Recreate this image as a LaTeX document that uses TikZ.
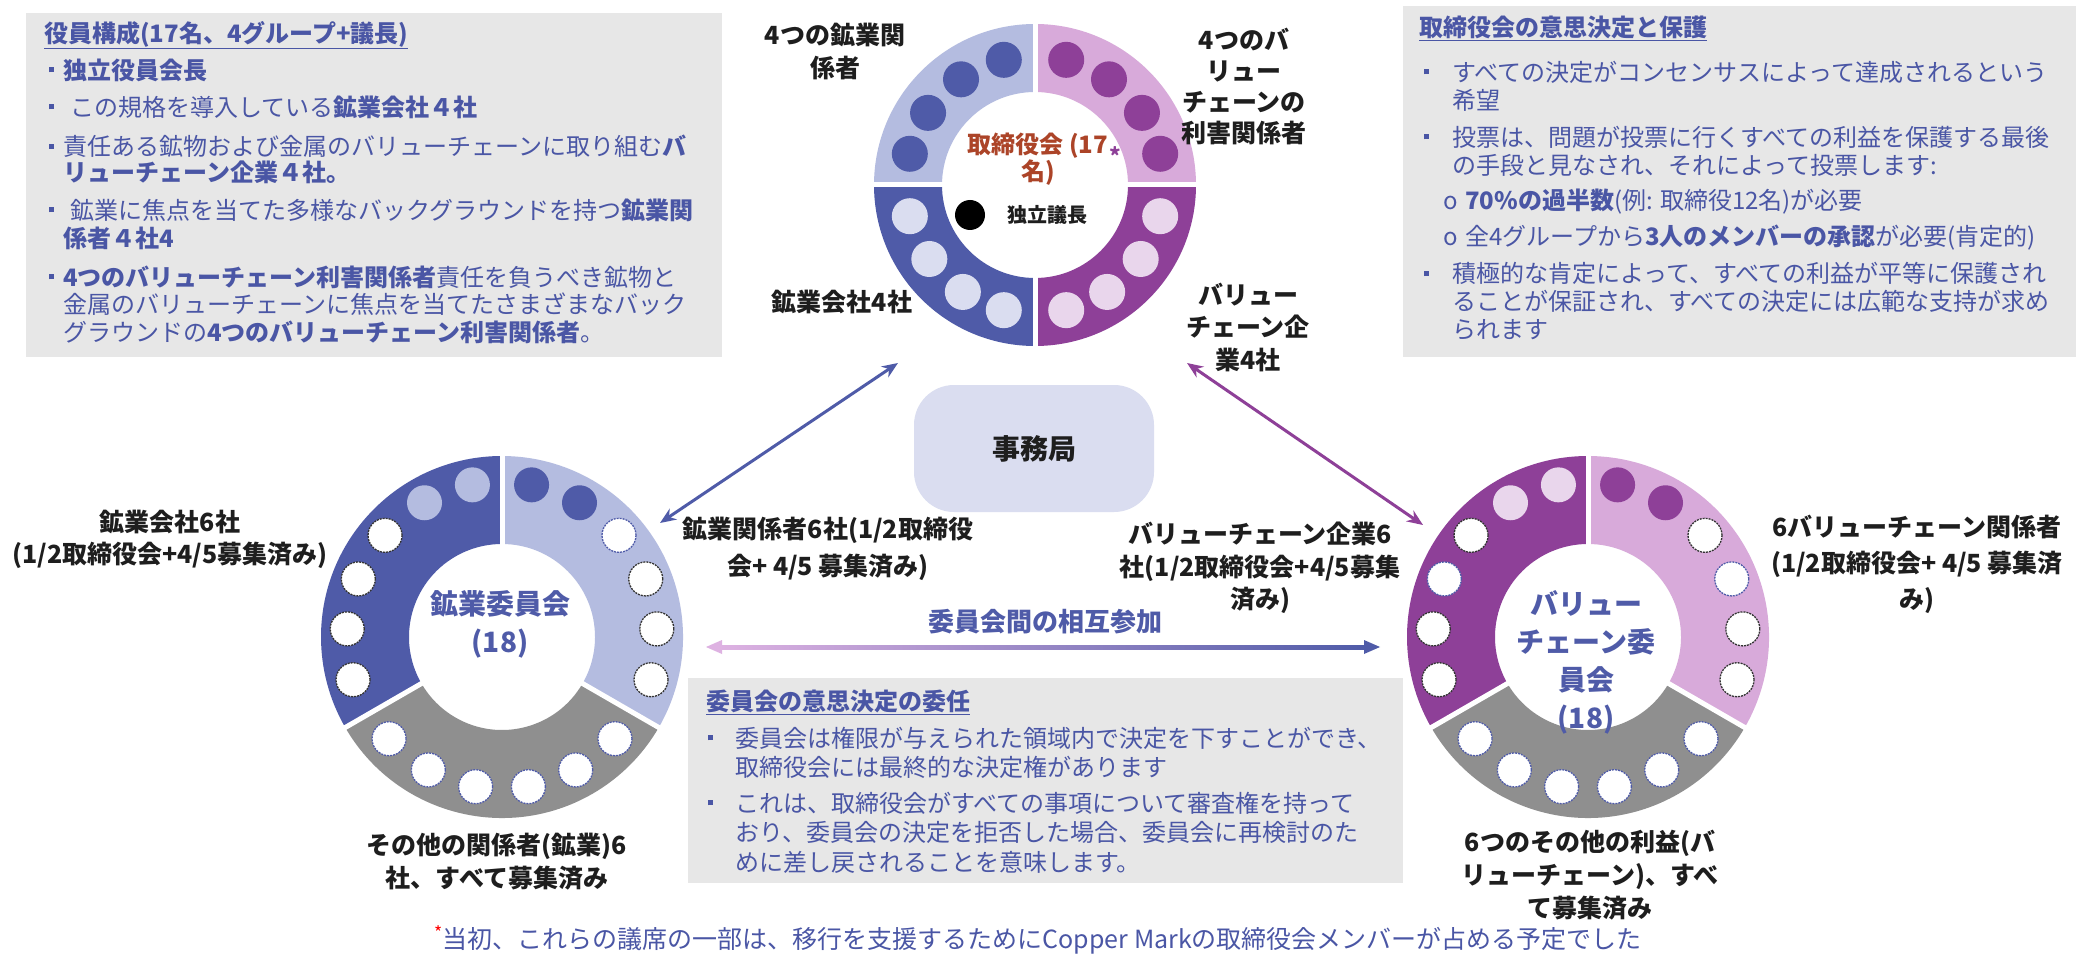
\documentclass[tikz,border=0pt]{standalone}
\usepackage{fontspec}
\setmainfont{Noto Sans CJK JP}
\usetikzlibrary{arrows.meta,calc}
\definecolor{dblue}{RGB}{79,91,168}
\definecolor{lblue}{RGB}{180,188,224}
\definecolor{vlblue}{RGB}{218,221,240}
\definecolor{dpurp}{RGB}{142,64,152}
\definecolor{lpurp}{RGB}{216,170,218}
\definecolor{vlpink}{RGB}{233,214,236}
\definecolor{ringgray}{RGB}{143,143,143}
\definecolor{boxgray}{RGB}{231,231,231}
\definecolor{txtblue}{RGB}{74,86,165}
\definecolor{lblk}{RGB}{30,30,30}
\definecolor{rust}{RGB}{172,68,40}
\definecolor{pinkarrow}{RGB}{222,178,226}
\newcommand\sqb{\raisebox{0.28em}{\rule{5pt}{5pt}}}
\newcommand\annsec[5]{\fill[#1] (#2:#4) arc[start angle=#2,end angle=#3,radius=#4] -- (#3:#5) arc[start angle=#3,end angle=#2,radius=#5] -- cycle;}
\begin{document}
\begin{tikzpicture}[x=1pt,y=-1pt,
  boxtxt/.style={anchor=west,align=left,inner sep=0pt,text=txtblue,font={\fontsize{24}{#1}\selectfont}},
  boxtxt/.default=28,
  lbl/.style={align=center,inner sep=0pt,text=lblk,font={\bfseries\fontsize{25}{#1}\selectfont}},
  lbl/.default=33,
  cname/.style={align=center,inner sep=0pt,text=dblue,font={\bfseries\fontsize{28}{38}\selectfont}},
  wdot/.style={fill=white,draw=#1,line width=1.3pt,dash pattern=on 2pt off 1pt},
  ]
\fill[white] (0,0) rectangle (2076,957);
\useasboundingbox (0,0) rectangle (2076,957);

% ---------- grey boxes ----------
\fill[boxgray] (26,13) rectangle (722,357);
\fill[boxgray] (1403,6) rectangle (2076,357);
\fill[boxgray] (688,678) rectangle (1403,883);

% left box text
\node[boxtxt] (lt0) at (44,35) {\textbf{\underline{役員構成(17名、4グループ+議長)}}};
\node[boxtxt] (lt1) at (49,70) {\sqb\hspace{9pt}\textbf{独立役員会長}};
\node[boxtxt] (lt2) at (49,107) {\sqb\hspace{16pt}この規格を導入している\textbf{鉱業会社４社}};
\node[boxtxt=26] (lt3) at (49,159.5) {\sqb\hspace{9pt}責任ある鉱物および金属のバリューチェーンに取り組む\textbf{バ}\\\hspace*{14pt}\textbf{リューチェーン企業４社。}};
\node[boxtxt] (lt4) at (49,224) {\sqb\hspace{16pt}鉱業に焦点を当てた多様なバックグラウンドを持つ\textbf{鉱業関}\\\hspace*{14pt}\textbf{係者４社4}};
\node[boxtxt=27.5] (lt5) at (49,304.5) {\sqb\hspace{9pt}\textbf{4つのバリューチェーン利害関係者}責任を負うべき鉱物と\\\hspace*{14pt}金属のバリューチェーンに焦点を当てたさまざまなバック\\\hspace*{14pt}グラウンドの\textbf{4つのバリューチェーン利害関係者}。};

% right box text
\node[boxtxt] (rt0) at (1419,28) {\textbf{\underline{取締役会の意思決定と保護}}};
\node[boxtxt] (rt1) at (1424,86) {\sqb\hspace{23pt}すべての決定がコンセンサスによって達成されるという\\\hspace*{28pt}希望};
\node[boxtxt] (rt2) at (1424,151) {\sqb\hspace{23pt}投票は、問題が投票に行くすべての利益を保護する最後\\\hspace*{28pt}の手段と見なされ、それによって投票します:};
\node[boxtxt] (rt3) at (1443,202) {\makebox[22pt][l]{o}\textbf{70\%の過半数}(例: 取締役12名)が必要};
\node[boxtxt] (rt4) at (1443,238) {\makebox[22pt][l]{o}全4グループから\textbf{3人のメンバーの承認}が必要(肯定的)};
\node[boxtxt] (rt5) at (1424,301.5) {\sqb\hspace{23pt}積極的な肯定によって、すべての利益が平等に保護され\\\hspace*{28pt}ることが保証され、すべての決定には広範な支持が求め\\\hspace*{28pt}られます};

% bottom box text
\node[boxtxt] (bt0) at (706,702) {\textbf{\underline{委員会の意思決定の委任}}};
\node[boxtxt=29] (bt1) at (708,752.5) {\sqb\hspace{22pt}委員会は権限が与えられた領域内で決定を下すことができ、\\\hspace*{27pt}取締役会には最終的な決定権があります};
\node[boxtxt=29.5] (bt2) at (708,832.5) {\sqb\hspace{22pt}これは、取締役会がすべての事項について審査権を持って\\\hspace*{27pt}おり、委員会の決定を拒否した場合、委員会に再検討のた\\\hspace*{27pt}めに差し戻されることを意味します。};

% ---------- top circle (board) ----------
\coordinate (boardc) at (1035,185);
\begin{scope}[shift={(1035,185)},yscale=-1]
  \annsec{lblue}{90}{180}{161}{93}
  \annsec{lpurp}{0}{90}{161}{93}
  \annsec{dblue}{180}{270}{161}{93}
  \annsec{dpurp}{270}{360}{161}{93}
  \draw[white,line width=5pt] (0,-166) -- (0,166) (-166,0) -- (166,0);
  \foreach \a in {104,125,146,166} \fill[dblue] (\a:129) circle[radius=18];
  \foreach \a in {76,55,34,14} \fill[dpurp] (\a:129) circle[radius=18];
  \foreach \a in {194,215,236,256} \fill[vlblue] (\a:129) circle[radius=18];
  \foreach \a in {346,325,304,284} \fill[vlpink] (\a:129) circle[radius=18];
\end{scope}
\fill[black] (970,215) circle[radius=15];
\node[inner sep=0pt,text=lblk,font={\bfseries\fontsize{20}{24}\selectfont}] (chair) at (1047,215) {独立議長};
\node[align=center,inner sep=0pt,text=rust,font={\bfseries\fontsize{24}{25}\selectfont}] (board) at (1038,159.5) {取締役会 (17\\名)};
\node[inner sep=0pt,text=dpurp,font={\bfseries\fontsize{22}{24}\selectfont}] (bast) at (1115,156) {*};

% ---------- mining committee ----------
\begin{scope}[shift={(502,637)},yscale=-1]
  \annsec{dblue}{90}{210}{181}{93}
  \annsec{lblue}{-30}{90}{181}{93}
  \annsec{ringgray}{210}{330}{181}{93}
  \foreach \a in {90,210,330} \draw[white,line width=5pt] (\a:88) -- (\a:186);
  \foreach \a in {101,120} \fill[lblue] (\a:155) circle[radius=17.5];
  \foreach \a in {79,60} \fill[dblue] (\a:155) circle[radius=17.5];
  \foreach \a in {139,158,177,196,22,3,-16} \draw[wdot=black!80] (\a:155) circle[radius=17];
  \draw[wdot=dblue] (41:155) circle[radius=17];
  \foreach \a in {222,241,260,280,299,318} \draw[wdot=dblue] (\a:152) circle[radius=17];
\end{scope}
\node[cname] (minc) at (500,624) {鉱業委員会\\(18)};

% ---------- value chain committee ----------
\begin{scope}[shift={(1588,637)},yscale=-1]
  \annsec{dpurp}{90}{210}{181}{93}
  \annsec{lpurp}{-30}{90}{181}{93}
  \annsec{ringgray}{210}{330}{181}{93}
  \foreach \a in {90,210,330} \draw[white,line width=5pt] (\a:88) -- (\a:186);
  \foreach \a in {101,120} \fill[vlpink] (\a:155) circle[radius=17.5];
  \foreach \a in {79,60} \fill[dpurp] (\a:155) circle[radius=17.5];
  \foreach \a in {139,177,196,41,3,-16} \draw[wdot=black!80] (\a:155) circle[radius=17];
  \foreach \a in {158,22} \draw[wdot=dblue] (\a:155) circle[radius=17];
  \foreach \a in {222,241,260,280,299,318} \draw[wdot=dblue] (\a:152) circle[radius=17];
\end{scope}
\node[cname] (vcc) at (1586,662) {バリュー\\チェーン委\\員会\\(18)};

% ---------- labels ----------
\node[lbl] (lab1) at (835,51.5) {4つの鉱業関\\係者};
\node[lbl=31] (lab2) at (1244,86.5) {4つのバ\\リュー\\チェーンの\\利害関係者};
\node[lbl] (lab3) at (842,302) {鉱業会社4社};
\node[lbl=32.5] (lab4) at (1248,327.5) {バリュー\\チェーン企\\業4社};
\node[lbl=32] (lab5) at (170,539) {鉱業会社6社\\(1/2取締役会+4/5募集済み)};
\node[lbl=37] (lab6) at (828,548.5) {鉱業関係者6社(1/2取締役\\会+ 4/5 募集済み)};
\node[lbl=32.5] (lab7) at (1260,568) {バリューチェーン企業6\\社(1/2取締役会+4/5募集\\済み)};
\node[lbl=36] (lab8) at (1917,564) {6バリューチェーン関係者\\(1/2取締役会+ 4/5 募集済\\み)};
\node[lbl] (lab9) at (497,861.5) {その他の関係者(鉱業)6\\社、すべて募集済み};
\node[lbl] (lab10) at (1590,875) {6つのその他の利益(バ\\リューチェーン)、すべ\\て募集済み};

% ---------- secretariat ----------
\node[fill=vlblue,rounded corners=40pt,minimum width=240pt,minimum height=127pt,inner sep=0pt,text=lblk,font={\bfseries\fontsize{28}{30}\selectfont}] (sec) at (1034,448.5) {事務局};

% ---------- arrows ----------
\coordinate (a1s) at (660,523);
\coordinate (a1e) at (898,363);
\draw[dblue,line width=3pt,{Stealth[length=16pt,width=13pt]}-{Stealth[length=16pt,width=13pt]}] (a1s) -- (a1e);
\coordinate (a2s) at (1423,525);
\coordinate (a2e) at (1187,363);
\draw[dpurp,line width=3pt,{Stealth[length=16pt,width=13pt]}-{Stealth[length=16pt,width=13pt]}] (a2s) -- (a2e);

\node[inner sep=0pt,text=dblue,font={\bfseries\fontsize{26}{28}\selectfont}] (cross) at (1045,622) {委員会間の相互参加};
\coordinate (hl) at (706,647);
\coordinate (hr) at (1380,647);
\shade[left color=pinkarrow,right color=dblue] ($(hl)+(12,-2)$) rectangle ($(hr)+(-12,2)$);
\fill[pinkarrow] (hl) -- ++(16,-7) -- ++(0,14) -- cycle;
\fill[dblue] (hr) -- ++(-16,-7) -- ++(0,14) -- cycle;

% ---------- footnote ----------
\node[inner sep=0pt,text=txtblue,font={\fontsize{25}{28}\selectfont}] (fn) at (1038,940) {\textcolor{red}{\textsuperscript{*}}当初、これらの議席の一部は、移行を支援するためにCopper Markの取締役会メンバーが占める予定でした};
\end{tikzpicture}
\end{document}
